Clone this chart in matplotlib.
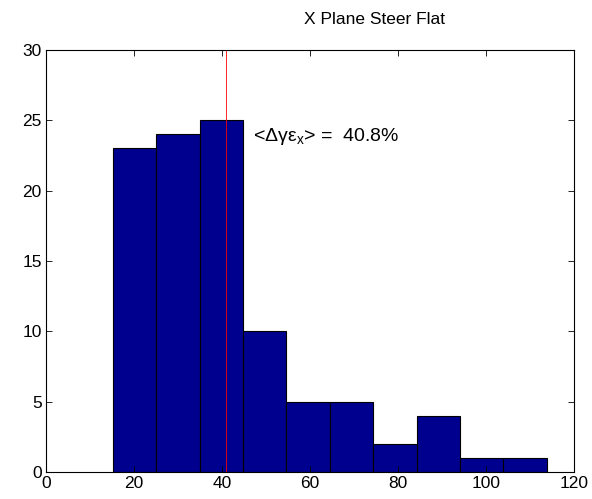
import numpy as np
import matplotlib.pyplot as plt

bin_edges = [15.2, 25.06, 34.92, 44.78, 54.64, 64.5, 74.36, 84.22, 94.08, 103.94, 113.8]
counts = [23, 24, 25, 10, 5, 5, 2, 4, 1, 1]
mean_value = 40.8
title = "X Plane Steer Flat"

plt.rcParams["font.family"] = ["Liberation Sans", "DejaVu Sans"]
plt.rcParams["mathtext.fontset"] = "custom"
plt.rcParams["mathtext.rm"] = "Liberation Sans"


def draw(fig):
    ax = fig.add_axes([46 / 592, 27 / 499, 528 / 592, 422 / 499])
    lefts = np.array(bin_edges[:-1])
    widths = np.diff(bin_edges)
    ax.bar(lefts, counts, width=widths, align="edge",
           color=(0, 0, 0.5625), edgecolor="black", linewidth=0.8)
    ax.axvline(mean_value, color="red", linewidth=0.6)

    ax.set_xlim(0, 120)
    ax.set_ylim(0, 30)
    ax.set_xticks(range(0, 121, 20))
    ax.set_yticks(range(0, 31, 5))
    ax.tick_params(direction="in", top=True, right=True, length=4,
                   labelsize=12.5, width=0.6, pad=3)
    for s in ax.spines.values():
        s.set_linewidth(0.8)

    ax.text(47, 23.53, "<Δγε$_\\mathregular{x}$> =  %.1f%%" % mean_value,
            fontsize=14, va="baseline")
    ax.text(74.6, 31.82, title, ha="center", va="baseline", fontsize=12.5)


fig = plt.figure(figsize=(5.92, 4.99), dpi=100)
draw(fig)
fig.savefig("out.png", dpi=100)
